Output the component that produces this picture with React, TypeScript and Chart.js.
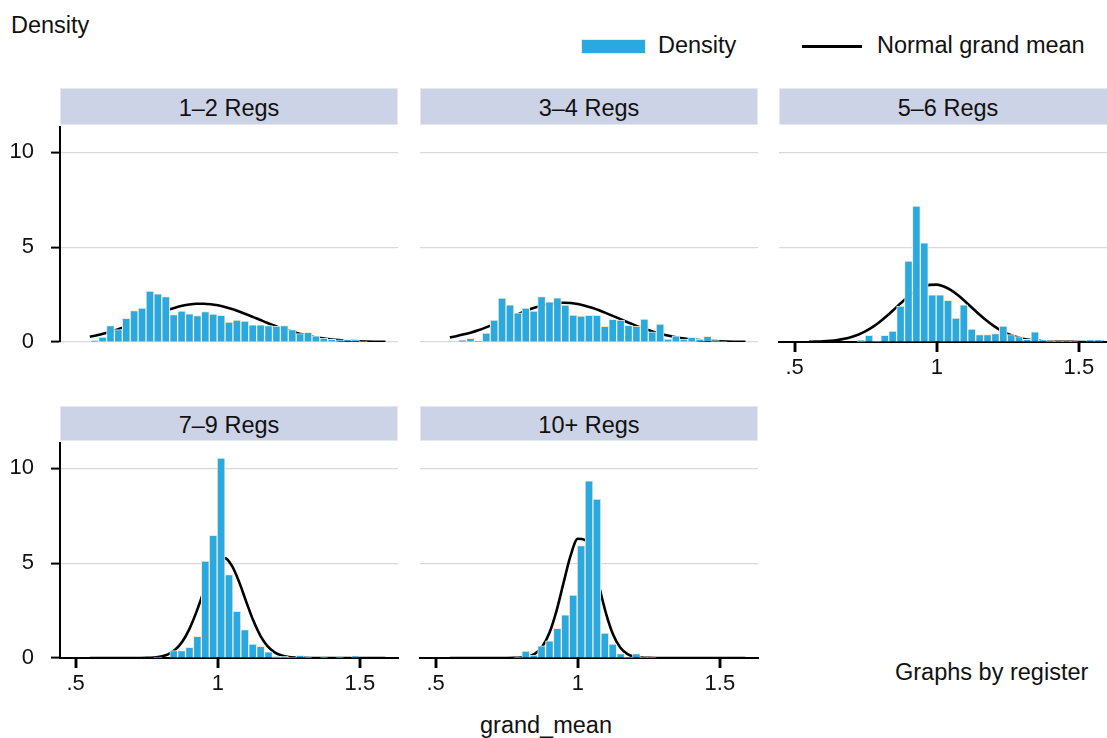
import React, { useEffect, useRef } from "react";
import { Chart, registerables } from "chart.js";

Chart.register(...registerables);

// ---------- data ----------
const BIN_X = [
  0.5669, 0.5947, 0.6225, 0.6503, 0.6781, 0.7059, 0.7337, 0.7615, 0.7893, 0.8171,
  0.8449, 0.8727, 0.9005, 0.9283, 0.9561, 0.9839, 1.0117, 1.0395, 1.0673, 1.0951,
  1.1229, 1.1507, 1.1785, 1.2063, 1.2341, 1.2619, 1.2897, 1.3175, 1.3453, 1.3731,
  1.4009, 1.4287, 1.4565, 1.4843, 1.5121, 1.5399, 1.5677,
];

const BARS_1_2 = [
  0.07, 0.26, 0.86, 0.65, 1.25, 1.65, 1.79, 2.68, 2.54, 2.4,
  1.44, 1.63, 1.49, 1.39, 1.6, 1.47, 1.4, 1.05, 1.16, 1.1,
  0.91, 0.91, 0.86, 0.84, 0.86, 0.65, 0.44, 0.51, 0.32, 0.21,
  0.14, 0.12, 0.14, 0.12, 0.05, null, null,
];
const BARS_3_4 = [
  null, 0.09, 0.19, 0.05, 0.47, 1.16, 2.32, 1.96, 1.54, 1.79,
  1.63, 2.39, 2.12, 2.33, 1.95, 1.42, 1.37, 1.4, 1.4, 0.82,
  1.19, 1.16, 0.88, 0.84, 1.21, 0.54, 0.95, 0.16, 0.33, 0.16,
  0.25, 0.16, 0.3, 0.07, 0.02, null, null,
];
const BARS_5_6 = [
  null, null, null, null, null, null, 0.09, 0.35, 0.04, 0.35,
  0.58, 1.89, 4.26, 7.16, 5.23, 2.49, 2.49, 2.19, 1.26, 1.96,
  0.68, 0.39, 0.39, 0.44, 0.84, 0.39, 0.28, 0.14, 0.53, 0.12,
  0.07, 0.05, 0.05, 0.05, null, 0.12, 0.12,
];
const BARS_7_9 = [
  null, null, null, null, null, null, null, null, 0.05, null,
  0.39, 0.39, 0.56, 1.14, 5.11, 6.46, 10.53, 4.4, 2.46, 1.5,
  0.74, 0.62, 0.33, 0.07, 0.09, 0.05, 0.14, 0.02, null, 0.02,
  null, 0.02, null, 0.12, null, null, null,
];
const BARS_10 = [
  null, null, null, null, null, null, null, null, 0.04, 0.37,
  0.16, 0.64, 0.9, 1.56, 2.27, 3.32, 5.92, 9.34, 8.37, 1.31,
  0.73, 0.23, 0.05, 0.23, 0.05, 0.02, null, null, null, null,
  null, null, null, null, null, null, null,
];

const CURVE_X = [
  0.55, 0.575, 0.6, 0.625, 0.65, 0.675, 0.7, 0.725, 0.75, 0.775,
  0.8, 0.825, 0.85, 0.875, 0.9, 0.925, 0.95, 0.975, 1.0, 1.025,
  1.05, 1.075, 1.1, 1.125, 1.15, 1.175, 1.2, 1.225, 1.25, 1.275,
  1.3, 1.325, 1.35, 1.375, 1.4, 1.425, 1.45, 1.475, 1.5, 1.525,
  1.55, 1.575, 1.59,
];
const CURVE_1_2 = [
  0.279, 0.356, 0.448, 0.553, 0.674, 0.807, 0.95, 1.102, 1.256, 1.411,
  1.557, 1.693, 1.811, 1.907, 1.975, 2.013, 2.018, 1.992, 1.934, 1.848,
  1.739, 1.608, 1.464, 1.312, 1.157, 1.003, 0.857, 0.72, 0.595, 0.484,
  0.388, 0.305, 0.236, 0.18, 0.135, 0.1, 0.073, 0.052, 0.037, 0.025,
  0.017, 0.012, 0.01,
];
const CURVE_3_4 = [
  0.244, 0.317, 0.404, 0.506, 0.623, 0.756, 0.901, 1.055, 1.216, 1.379,
  1.537, 1.684, 1.815, 1.923, 2.004, 2.054, 2.07, 2.051, 2.0, 1.915,
  1.805, 1.673, 1.524, 1.366, 1.204, 1.043, 0.889, 0.745, 0.614, 0.497,
  0.396, 0.311, 0.239, 0.181, 0.135, 0.099, 0.071, 0.05, 0.035, 0.024,
  0.016, 0.011, 0.009,
];
const CURVE_5_6 = [
  0.011, 0.021, 0.037, 0.065, 0.108, 0.173, 0.267, 0.399, 0.575, 0.797,
  1.069, 1.381, 1.72, 2.068, 2.398, 2.682, 2.893, 3.01, 3.021, 2.925,
  2.731, 2.459, 2.137, 1.79, 1.447, 1.128, 0.848, 0.615, 0.43, 0.29,
  0.189, 0.119, 0.072, 0.042, 0.024, 0.013, 0.007, 0.004, 0.002, 0.001,
  0.001, 0, 0,
];
const CURVE_7_9 = [
  0, 0, 0, 0, 0, 0, 0.001, 0.003, 0.009, 0.028,
  0.079, 0.194, 0.431, 0.857, 1.524, 2.432, 3.477, 4.455, 5.115, 5.263,
  4.853, 4.011, 2.969, 1.97, 1.172, 0.625, 0.298, 0.128, 0.049, 0.017,
  0.005, 0.001, 0, 0, 0, 0, 0, 0, 0, 0,
  0, 0, 0,
];
const CURVE_10 = [
  0, 0, 0, 0, 0, 0, 0, 0, 0, 0.005,
  0.021, 0.076, 0.231, 0.598, 1.318, 2.475, 3.963, 5.404, 6.282, 6.222,
  5.252, 3.777, 2.314, 1.208, 0.538, 0.204, 0.066, 0.018, 0.004, 0,
  0, 0, 0, 0, 0, 0, 0, 0, 0, 0,
  0, 0, 0,
];

const X_TICKS = [0.5, 1, 1.5];
const X_TICK_LABELS = [".5", "1", "1.5"];
const Y_TICKS = [0, 5, 10];
const Y_TICK_LABELS = ["0", "5", "10"];
const PANEL_TITLES = ["1\u20132 Regs", "3\u20134 Regs", "5\u20136 Regs", "7\u20139 Regs", "10+ Regs"];
const LEGEND_LABELS = ["Density", "Normal grand mean"];
const Y_TITLE = "Density";
const X_TITLE = "grand_mean";
const NOTE = "Graphs by register";

// ---------- style ----------
const FONT = '"Liberation Sans", Arial, Helvetica, sans-serif';
const FS = 22; // tick labels
const FT = 23.5; // other text
const BAR_FILL = "#2aa8e0";
const BAR_EDGE = "#eeecd6";
const GRID = "#d9d9d9";
const STRIP_BG = "#ccd3e6";
const STRIP_EDGE = "#e4e8f1";
const X_MIN = 0.445;
const X_MAX = 1.634;
const Y_MAX = 11.33;
const PW = 338;
const PH = 215;
const AXW = 60;
const AXH = 40;
const PADT = 4;
const PADR = 4;
const TICK_LEN = 10;

type Spec = {
  title: string;
  bars: (number | null)[];
  curve: number[];
  left: number;
  top: number;
  showY: boolean;
  showX: boolean;
};

const PANELS: Spec[] = [
  { title: PANEL_TITLES[0], bars: BARS_1_2, curve: CURVE_1_2, left: 60, top: 127, showY: true, showX: false },
  { title: PANEL_TITLES[1], bars: BARS_3_4, curve: CURVE_3_4, left: 420, top: 127, showY: false, showX: false },
  { title: PANEL_TITLES[2], bars: BARS_5_6, curve: CURVE_5_6, left: 779, top: 127, showY: false, showX: true },
  { title: PANEL_TITLES[3], bars: BARS_7_9, curve: CURVE_7_9, left: 60, top: 443, showY: true, showX: true },
  { title: PANEL_TITLES[4], bars: BARS_10, curve: CURVE_10, left: 420, top: 443, showY: false, showX: true },
];

const zeroPad = (s: any) => {
  s.paddingTop = 0;
  s.paddingBottom = 0;
  s.paddingLeft = 0;
  s.paddingRight = 0;
};

// outward x tick marks below the axis line
const drawTicks = (chart: any) => {
  const sx = chart.scales.x;
  const ctx = chart.ctx;
  const y0 = Math.round(sx.top);
  ctx.save();
  ctx.setLineDash([]);
  ctx.globalAlpha = 1;
  ctx.globalCompositeOperation = "source-over";
  ctx.fillStyle = "#000000";
  X_TICKS.forEach((v) => {
    const px = Math.round(sx.getPixelForValue(v));
    ctx.fillRect(px - 1.25, y0 - 1, 2.5, TICK_LEN + 1);
  });
  ctx.restore();
};
const makeTickMarks = () => ({
  id: "xTickMarks",
  afterDraw(chart: any) {
    drawTicks(chart);
  },
  afterRender(chart: any) {
    drawTicks(chart);
  },
});

function Panel({ spec }: { spec: Spec }) {
  const ref = useRef<HTMLCanvasElement>(null);
  useEffect(() => {
    const font = { family: FONT, size: FS };
    const chart = new Chart(ref.current as HTMLCanvasElement, {
      type: "bar",
      plugins: spec.showX ? [makeTickMarks()] : [],
      data: {
        datasets: [
          {
            type: "bar",
            label: LEGEND_LABELS[0],
            data: BIN_X.map((x, i) => ({ x, y: spec.bars[i] })) as any,
            backgroundColor: BAR_FILL,
            borderColor: BAR_EDGE,
            borderWidth: 1,
            barPercentage: 1,
            categoryPercentage: 1,
            order: 1,
          },
          {
            type: "line",
            label: LEGEND_LABELS[1],
            data: CURVE_X.map((x, i) => ({ x, y: spec.curve[i] })) as any,
            borderColor: "#000",
            borderWidth: 2.6,
            pointRadius: 0,
            cubicInterpolationMode: "monotone",
            fill: false,
            order: 2,
          },
        ],
      } as any,
      options: {
        animation: false,
        responsive: false,
        events: [],
        layout: { padding: { top: PADT, right: PADR, left: 0, bottom: 0 } },
        plugins: {
          legend: { display: false },
          tooltip: { enabled: false },
        },
        scales: {
          x: {
            type: "linear",
            min: X_MIN,
            max: X_MAX,
            offset: false,
            afterFit: (s: any) => {
              s.height = AXH;
              zeroPad(s);
            },
            afterBuildTicks: (s: any) => {
              s.ticks = X_TICKS.map((v) => ({ value: v }));
            },
            border: { display: spec.showX, color: "#000", width: 2 },
            grid: {
              display: spec.showX,
              offset: false,
              drawOnChartArea: false,
              drawTicks: true,
              tickLength: TICK_LEN,
              color: "#000",
              tickColor: "#000",
              lineWidth: 2,
              tickWidth: 2,
            },
            ticks: {
              display: spec.showX,
              autoSkip: false,
              maxRotation: 0,
              padding: 3,
              color: "#111",
              font,
              callback: (_v: any, i: number) => X_TICK_LABELS[i],
            },
          },
          y: {
            type: "linear",
            min: 0,
            max: Y_MAX,
            afterFit: (s: any) => {
              s.width = AXW;
              zeroPad(s);
            },
            afterBuildTicks: (s: any) => {
              s.ticks = Y_TICKS.map((v) => ({ value: v }));
            },
            border: { display: spec.showY, color: "#000", width: 2 },
            grid: {
              color: GRID,
              lineWidth: 1.2,
              drawTicks: spec.showY,
              tickLength: 9,
              tickColor: "#000",
              tickWidth: 2,
            },
            ticks: {
              display: spec.showY,
              padding: 17,
              color: "#111",
              font,
              callback: (_v: any, i: number) => Y_TICK_LABELS[i],
            },
          },
        },
      } as any,
    });
    return () => chart.destroy();
  }, [spec]);

  const cw = PW + AXW + PADR;
  const ch = PH + PADT + AXH;
  const stripTop = spec.top < 300 ? 88 : 406;
  const stripH = spec.top < 300 ? 37 : 35;
  return (
    <>
      <div
        style={{
          position: "absolute",
          left: spec.left,
          top: stripTop,
          width: PW,
          height: stripH,
          boxSizing: "border-box",
          background: STRIP_BG,
          border: `1.5px solid ${STRIP_EDGE}`,
          display: "flex",
          alignItems: "center",
          justifyContent: "center",
          font: `${FT}px ${FONT}`,
          color: "#111",
          lineHeight: 1,
          paddingTop: 5,
        }}
      >
        {spec.title}
      </div>
      <canvas
        ref={ref}
        width={cw}
        height={ch}
        style={{ position: "absolute", left: spec.left - AXW, top: spec.top - PADT, width: cw, height: ch }}
      />
    </>
  );
}

const txt = (left: number, top: number, s: string, extra: any = {}) => (
  <div
    style={{
      position: "absolute",
      left,
      top,
      font: `${FT}px ${FONT}`,
      color: "#111",
      lineHeight: `${FT}px`,
      whiteSpace: "nowrap",
      ...extra,
    }}
  >
    {s}
  </div>
);

export default function App() {
  return (
    <div
      style={{
        position: "absolute",
        left: 0,
        top: 0,
        width: 1107,
        height: 738,
        overflow: "hidden",
        background: "#fff",
      }}
    >
      {txt(11, 14, Y_TITLE)}
      <div
        style={{
          position: "absolute",
          left: 581,
          top: 39,
          width: 65,
          height: 15,
          boxSizing: "border-box",
          background: BAR_FILL,
          border: `1px solid ${BAR_EDGE}`,
        }}
      />
      {txt(658, 34, LEGEND_LABELS[0])}
      <div style={{ position: "absolute", left: 802, top: 45, width: 60, height: 2.6, background: "#000" }} />
      {txt(877, 34, LEGEND_LABELS[1])}
      {PANELS.map((p) => (
        <Panel key={p.title} spec={p} />
      ))}
      {txt(446, 714, X_TITLE, { width: 200, textAlign: "center" })}
      {txt(895, 661, NOTE)}
    </div>
  );
}
